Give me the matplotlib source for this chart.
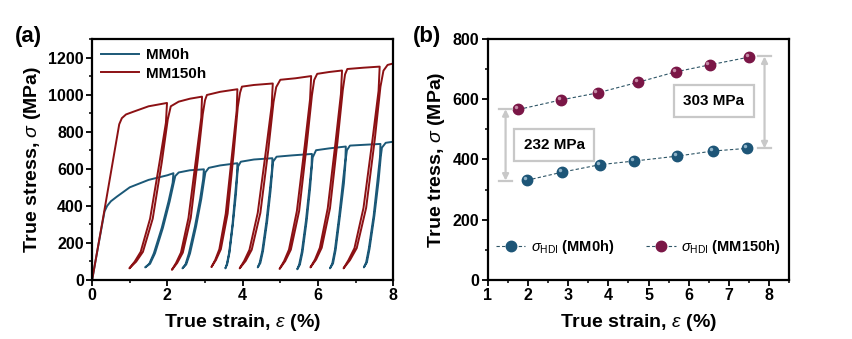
import matplotlib
matplotlib.use('Agg')
import matplotlib.pyplot as plt
from matplotlib.ticker import MultipleLocator
from matplotlib.transforms import offset_copy

plt.rcParams['font.family'] = ['Liberation Sans', 'DejaVu Sans']
plt.rcParams['font.weight'] = 'bold'
plt.rcParams['mathtext.fontset'] = 'custom'
plt.rcParams['mathtext.rm'] = 'Liberation Sans:normal'
plt.rcParams['mathtext.it'] = 'Liberation Sans:italic:normal'
plt.rcParams['mathtext.bf'] = 'Liberation Sans:bold'

# ---- panel (a): loading-unloading-reloading curves, vertices
mm0_strain = [0.00, 0.15, 0.33, 0.40, 0.50, 0.66, 1.00, 1.50, 2.00, 2.16,
              2.14, 2.03, 1.85, 1.64, 1.52, 1.41, 1.54, 1.67, 1.88, 2.06, 2.17, 2.21,
              2.30, 2.60, 2.97,
              2.95, 2.87, 2.73, 2.57, 2.48, 2.40, 2.50, 2.60, 2.76, 2.90, 2.98, 3.01,
              3.10, 3.40, 3.86,
              3.85, 3.80, 3.73, 3.64, 3.58, 3.54, 3.59, 3.65, 3.74, 3.82, 3.86, 3.88,
              3.95, 4.30, 4.79,
              4.78, 4.72, 4.63, 4.52, 4.45, 4.40, 4.47, 4.54, 4.65, 4.74, 4.79, 4.81,
              4.90, 5.30, 5.84,
              5.83, 5.77, 5.68, 5.57, 5.50, 5.45, 5.52, 5.59, 5.70, 5.79, 5.84, 5.86,
              5.95, 6.30, 6.74,
              6.73, 6.66, 6.56, 6.45, 6.38, 6.32, 6.40, 6.47, 6.58, 6.69, 6.74, 6.77,
              6.85, 7.20, 7.66,
              7.65, 7.58, 7.48, 7.35, 7.28, 7.22, 7.30, 7.37, 7.50, 7.61, 7.67, 7.70,
              7.80, 8.00]
mm0_stress = [0, 170, 370, 400, 425, 450, 500, 540, 565, 576,
              525, 424, 281, 144, 88, 68, 88, 144, 281, 424, 525, 561,
              580, 592, 597,
              544, 437, 287, 143, 84, 63, 84, 143, 287, 437, 544, 581,
              605, 618, 630,
              573, 460, 301, 148, 86, 63, 86, 148, 301, 460, 573, 613,
              638, 650, 657,
              598, 480, 315, 156, 92, 68, 92, 156, 315, 480, 598, 639,
              665, 672, 680,
              618, 493, 319, 151, 83, 58, 83, 151, 319, 493, 618, 661,
              700, 710, 720,
              654, 523, 339, 162, 89, 63, 89, 162, 339, 523, 654, 700,
              725, 729, 734,
              667, 534, 348, 168, 95, 68, 95, 168, 348, 534, 667, 714,
              740, 746]

mm150_strain = [0.00, 0.30, 0.72, 0.79, 0.90, 1.10, 1.50, 1.99,
                1.96, 1.79, 1.54, 1.29, 1.13, 0.99, 1.17, 1.35, 1.61, 1.85, 2.01, 2.09,
                2.30, 2.60, 2.92,
                2.90, 2.76, 2.56, 2.36, 2.23, 2.12, 2.26, 2.41, 2.62, 2.81, 2.94, 3.00,
                3.05, 3.40, 3.86,
                3.84, 3.72, 3.55, 3.38, 3.27, 3.17, 3.29, 3.42, 3.60, 3.76, 3.87, 3.93,
                3.98, 4.30, 4.80,
                4.77, 4.62, 4.40, 4.18, 4.04, 3.92, 4.08, 4.24, 4.47, 4.68, 4.82, 4.89,
                5.00, 5.40, 5.82,
                5.79, 5.65, 5.44, 5.23, 5.10, 4.98, 5.13, 5.28, 5.50, 5.70, 5.84, 5.90,
                5.98, 6.30, 6.64,
                6.61, 6.47, 6.26, 6.05, 5.92, 5.80, 5.95, 6.10, 6.32, 6.52, 6.66, 6.72,
                6.78, 7.20, 7.64,
                7.61, 7.45, 7.21, 6.97, 6.81, 6.68, 6.85, 7.03, 7.28, 7.51, 7.66, 7.74,
                7.85, 8.00]
mm150_stress = [0, 345, 840, 873, 893, 908, 937, 955,
                848, 634, 331, 152, 99, 63, 99, 152, 331, 634, 866, 937,
                962, 978, 989,
                877, 653, 335, 148, 92, 55, 92, 148, 335, 653, 895, 970,
                998, 1015, 1029,
                914, 684, 358, 166, 108, 70, 108, 166, 358, 684, 933, 1010,
                1043, 1052, 1060,
                940, 701, 362, 163, 103, 63, 103, 163, 362, 701, 960, 1040,
                1080, 1088, 1100,
                975, 726, 372, 164, 102, 60, 102, 164, 372, 726, 996, 1079,
                1112, 1122, 1130,
                1003, 748, 387, 174, 110, 68, 110, 174, 387, 748, 1024, 1109,
                1138, 1145, 1151,
                1020, 759, 389, 172, 107, 63, 107, 172, 389, 759, 1042, 1129,
                1160, 1168]

# ---- panel (b): HDI stress
hdi0_strain = [1.97, 2.85, 3.80, 4.65, 5.70, 6.60, 7.46]
hdi0_stress = [331, 358, 383, 395, 411, 428, 437]
hdi150_strain = [1.76, 2.83, 3.73, 4.73, 5.68, 6.52, 7.51]
hdi150_stress = [566, 598, 621, 656, 691, 714, 740]

gap_low = [1.44, 330, 567, '232 MPa']
gap_high = [7.89, 437, 742, '303 MPa']

c_blue = '#1b5877'
c_red = '#8c1114'
c_ball0 = '#1d5577'
c_ball150 = '#7a1646'

fig = plt.figure(figsize=(8.53, 3.39), dpi=100)
ax1 = fig.add_axes([0.108, 0.174, 0.353, 0.711])
ax2 = fig.add_axes([0.572, 0.174, 0.353, 0.711])

ax1.plot(mm0_strain, mm0_stress, color=c_blue, lw=1.4, label='MM0h')
ax1.plot(mm150_strain, mm150_stress, color=c_red, lw=1.4, label='MM150h')
ax1.set_xlim(0, 8)
ax1.set_ylim(0, 1300)
ax1.xaxis.set_major_locator(MultipleLocator(2))
ax1.xaxis.set_minor_locator(MultipleLocator(1))
ax1.yaxis.set_major_locator(MultipleLocator(200))
ax1.yaxis.set_minor_locator(MultipleLocator(100))
ax1.set_xlabel(r'True strain, $\varepsilon$ (%)', fontsize=14, fontweight='bold', labelpad=6)
ax1.set_ylabel(r'True stress, $\sigma$ (MPa)', fontsize=14, fontweight='bold', labelpad=4)
ax1.legend(loc='upper left', frameon=False, fontsize=11, handlelength=2.5,
           handletextpad=0.4, borderaxespad=0.2, labelspacing=0.3)

ax2.plot(hdi0_strain, hdi0_stress, ls=(0, (3, 2)), lw=0.8, color='#2e5566',
         marker='o', ms=7.5, mfc=c_ball0, mec=c_ball0, label=r'$\sigma_{\rm HDI}$ (MM0h)')
ax2.plot(hdi150_strain, hdi150_stress, ls=(0, (3, 2)), lw=0.8, color='#2e5566',
         marker='o', ms=7.5, mfc=c_ball150, mec=c_ball150, label=r'$\sigma_{\rm HDI}$ (MM150h)')
hl = offset_copy(ax2.transData, fig=fig, x=-1.5, y=1.5, units='points')
ax2.plot(hdi0_strain, hdi0_stress, ls='none', marker='o', ms=2.5, mfc='#8fb3c8', mec='none', transform=hl)
ax2.plot(hdi150_strain, hdi150_stress, ls='none', marker='o', ms=2.5, mfc='#c58aa6', mec='none', transform=hl)

for xa, lo, hi, txt in [gap_low, gap_high]:
    ax2.annotate('', xy=(xa, lo), xytext=(xa, hi),
                 arrowprops=dict(arrowstyle='<|-|>', color='#c8c8c8', lw=1.6,
                                 mutation_scale=9, shrinkA=0, shrinkB=0))
    ax2.plot([xa - 0.17, xa + 0.17], [lo, lo], color='#c8c8c8', lw=1.6)
    ax2.plot([xa - 0.17, xa + 0.17], [hi, hi], color='#c8c8c8', lw=1.6)
ax2.text(2.65, 448, gap_low[3], ha='center', va='center', fontsize=11, fontweight='bold',
         bbox=dict(boxstyle='square,pad=0.6', fc='white', ec='#c8c8c8', lw=1.6))
ax2.text(6.63, 594, gap_high[3], ha='center', va='center', fontsize=11, fontweight='bold',
         bbox=dict(boxstyle='square,pad=0.6', fc='white', ec='#c8c8c8', lw=1.6))

ax2.set_xlim(1, 8.5)
ax2.set_ylim(0, 800)
ax2.xaxis.set_major_locator(MultipleLocator(1))
ax2.xaxis.set_minor_locator(MultipleLocator(0.5))
ax2.yaxis.set_major_locator(MultipleLocator(200))
ax2.yaxis.set_minor_locator(MultipleLocator(100))
ax2.set_xlabel(r'True strain, $\varepsilon$ (%)', fontsize=14, fontweight='bold', labelpad=6)
ax2.set_ylabel(r'True tress, $\sigma$ (MPa)', fontsize=14, fontweight='bold', labelpad=4)
ax2.legend(loc='center', bbox_to_anchor=(0.5, 0.135), ncol=2, frameon=False,
           fontsize=10.5, handlelength=2.0, handletextpad=0.4, columnspacing=2.2)

for ax in (ax1, ax2):
    for sp in ax.spines.values():
        sp.set_linewidth(1.6)
    ax.tick_params(which='major', direction='out', length=4, width=1.3, labelsize=11.5, pad=2)
    ax.tick_params(which='minor', direction='out', length=2.5, width=1.1)
    for lab in ax.get_xticklabels() + ax.get_yticklabels():
        lab.set_fontweight('bold')

fig.text(0.018, 0.875, '(a)', fontsize=16, fontweight='bold')
fig.text(0.484, 0.875, '(b)', fontsize=16, fontweight='bold')

fig.savefig('out.png', dpi=100)
